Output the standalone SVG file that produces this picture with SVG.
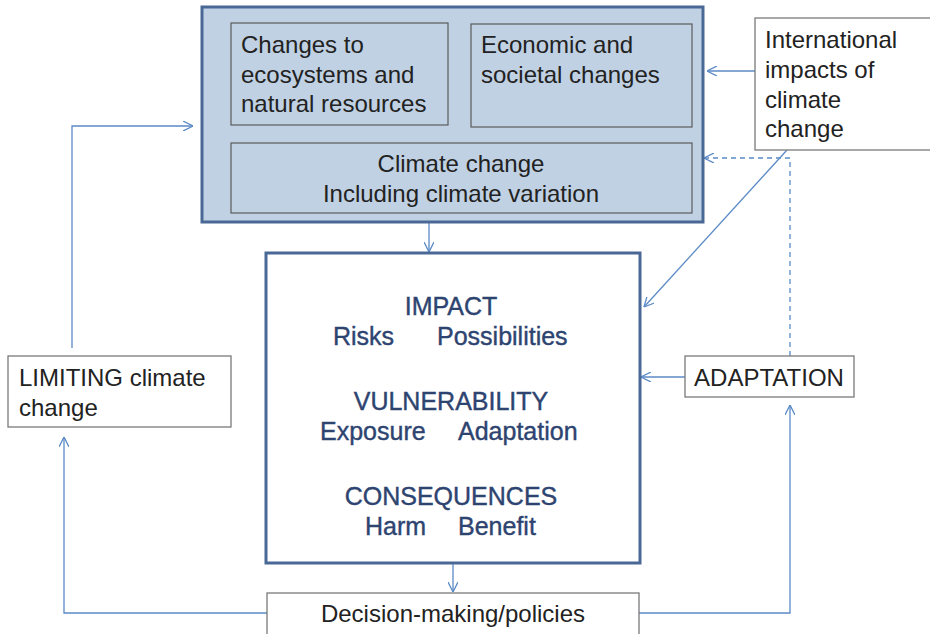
<svg xmlns="http://www.w3.org/2000/svg" width="930" height="634" viewBox="0 0 930 634">
<style>
.t{font-family:"Liberation Sans",Arial,sans-serif;font-size:24px;fill:#222}
.b{font-family:"Liberation Sans",Arial,sans-serif;font-size:25px;fill:#2e4470;stroke:#2e4470;stroke-width:0.4}
.outer{fill:#c0d1e3;stroke:#4a6896;stroke-width:3}
.inner{fill:#c0d1e3;stroke:#5a5a5a;stroke-width:1.2}
.main{fill:#fff;stroke:#4a6896;stroke-width:3}
.lite{fill:#fff;stroke:#7a7a7a;stroke-width:1.3}
.c{fill:none;stroke:#5b8ac6;stroke-width:1.3}
.d{stroke-dasharray:5,4}
</style>
<defs>
<marker id="a" viewBox="0 0 10 10" refX="10" refY="5" markerWidth="10" markerHeight="10" markerUnits="userSpaceOnUse" orient="auto">
<path d="M0,0 L10,5 L0,10" fill="none" stroke="#5b8ac6" stroke-width="1.3"/>
</marker>
</defs>
<rect width="930" height="634" fill="#fff"/>
<g id="connectors">
<path class="c" d="M429,222 V252" marker-end="url(#a)"/>
<path class="c" d="M453,563 V592" marker-end="url(#a)"/>
<path class="c" d="M639,613 H790 V405" marker-end="url(#a)"/>
<path class="c" d="M267,613 H64 V437" marker-end="url(#a)"/>
<path class="c" d="M72,348 V126 H193" marker-end="url(#a)"/>
<path class="c" d="M755,71 H707" marker-end="url(#a)"/>
<path class="c" d="M787,150 L644,307" marker-end="url(#a)"/>
<path class="c d" d="M790,356 V158 H704" marker-end="url(#a)"/>
<path class="c" d="M685,377 H641" marker-end="url(#a)"/>
</g>
<g id="climate-system">
<rect class="outer" x="202" y="7" width="501" height="215"/>
</g>
<g id="ecosystems">
<rect class="inner" x="231" y="23" width="217" height="102"/>
<text class="t" x="241" y="53">Changes to</text>
<text class="t" x="241" y="83">ecosystems and</text>
<text class="t" x="241" y="112">natural resources</text>
</g>
<g id="economic">
<rect class="inner" x="471" y="24" width="221" height="103"/>
<text class="t" x="481" y="53">Economic and</text>
<text class="t" x="481" y="83">societal changes</text>
</g>
<g id="climate-change">
<rect class="inner" x="231" y="143" width="461" height="70"/>
<text class="t" x="461" y="172" text-anchor="middle">Climate change</text>
<text class="t" x="461" y="202" text-anchor="middle">Including climate variation</text>
</g>
<g id="impact">
<rect class="main" x="266" y="253" width="374" height="310"/>
<text class="b" x="451" y="315" text-anchor="middle">IMPACT</text>
<text class="b" x="333" y="345">Risks</text>
<text class="b" x="437" y="345">Possibilities</text>
<text class="b" x="451" y="410" text-anchor="middle">VULNERABILITY</text>
<text class="b" x="320" y="440">Exposure</text>
<text class="b" x="458" y="440">Adaptation</text>
<text class="b" x="451" y="505" text-anchor="middle">CONSEQUENCES</text>
<text class="b" x="365" y="535">Harm</text>
<text class="b" x="458" y="535">Benefit</text>
</g>
<g id="decision">
<rect class="lite" x="267" y="593" width="372" height="44"/>
<text class="t" x="453" y="622" text-anchor="middle">Decision-making/policies</text>
</g>
<g id="adaptation">
<rect class="lite" x="685" y="356" width="169" height="41"/>
<text class="t" x="769" y="386" text-anchor="middle">ADAPTATION</text>
</g>
<g id="international">
<rect class="lite" x="755" y="18" width="180" height="132"/>
<text class="t" x="765" y="48">International</text>
<text class="t" x="765" y="78">impacts of</text>
<text class="t" x="765" y="108">climate</text>
<text class="t" x="765" y="137">change</text>
</g>
<g id="limiting">
<rect class="lite" x="8" y="356" width="223" height="71"/>
<text class="t" x="19" y="386">LIMITING climate</text>
<text class="t" x="19" y="416">change</text>
</g>
</svg>
